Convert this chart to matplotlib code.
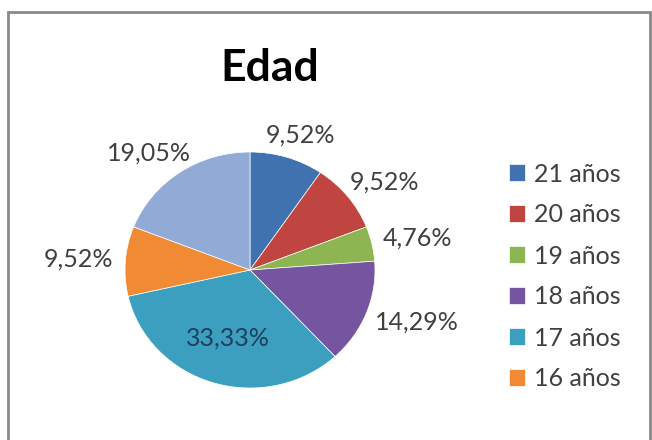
import numpy as np
import matplotlib.pyplot as plt
from matplotlib.patches import Rectangle

# datos
labels = ['21 años', '20 años', '19 años', '18 años', '17 años', '16 años', '15 años']
counts = [2, 2, 1, 3, 7, 2, 4]
colors = ['#3F72AF', '#C0443F', '#8DB552', '#7655A0', '#3C9FC0', '#F08A35', '#91ABD6']

plt.rcParams['font.family'] = ['Lato', 'DejaVu Sans']

fig = plt.figure(figsize=(6.52, 4.4), dpi=100)
fig.patch.set_facecolor('white')

# marco del grafico
fig.add_artist(Rectangle((8 / 652, -0.05), (642 / 652), (440 - 12) / 440 + 0.05,
                         transform=fig.transFigure, fill=False,
                         edgecolor='#8a8a8a', lw=2))

ax = fig.add_axes([(250 - 125) / 652, (440 - 270 - 118) / 440, 250 / 652, 236 / 440])
wedges, texts, autotexts = ax.pie(
    counts, colors=colors, startangle=90, counterclock=False,
    autopct=lambda p: f'{p:.2f}%'.replace('.', ','), pctdistance=1.3,
    textprops=dict(fontsize=18, color='#404040'),
    wedgeprops=dict(linewidth=0.5, edgecolor='white'))
ax.set_aspect('auto')
ax.set_xlim(-1, 1)
ax.set_ylim(-1, 1)

# etiquetas fuera, con el borde del texto junto al pastel (como Excel)
fig.canvas.draw()
renderer = fig.canvas.get_renderer()
big = counts.index(max(counts))
for i, (w, t) in enumerate(zip(wedges, autotexts)):
    th = np.radians((w.theta1 + w.theta2) / 2)
    if i == big:
        t.set_position((0.6 * np.cos(th), 0.6 * np.sin(th)))
        t.set_color('#1f3f5f')
        continue
    bb = t.get_window_extent(renderer)
    ax_px = ax.transData.transform((1.1 * np.cos(th), 1.1 * np.sin(th)))
    cx = ax_px[0] + bb.width / 2 * np.cos(th)
    cy = ax_px[1] + bb.height / 2 * np.sin(th)
    t.set_position(ax.transData.inverted().transform((cx, cy)))

fig.text(270 / 652, 1 - 68 / 440, 'Edad', ha='center', va='center',
         fontsize=32, fontweight='bold', color='black')

leg = fig.legend(wedges[:6], labels[:6], loc='upper left',
                 bbox_to_anchor=(486 / 652, 1 - 140 / 440), frameon=False,
                 fontsize=18, labelspacing=0.72, handlelength=0.65,
                 handleheight=0.65, handletextpad=0.35, labelcolor='#404040')

fig.savefig('out.png', dpi=100)
